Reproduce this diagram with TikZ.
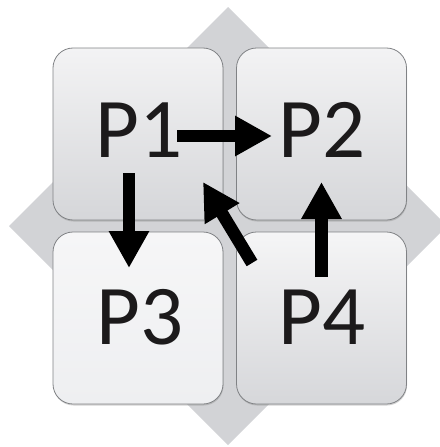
\documentclass[tikz,border=0pt]{standalone}
\usepackage{fontspec}
\setmainfont{Carlito}
\usetikzlibrary{arrows.meta,shadows}
\definecolor{diamondgray}{HTML}{D2D3D6}
\definecolor{boxedge}{HTML}{808285}
\definecolor{txt}{HTML}{1C1A1B}
\tikzset{
  box/.style={draw=boxedge, line width=0.8pt, rounded corners=20pt,
    minimum width=170pt, minimum height=172pt, inner sep=0pt,
    drop shadow={shadow xshift=0.5pt, shadow yshift=-1.5pt, opacity=0.35}},
  darkbox/.style={box, top color=#1!100, bottom color=#1!100},
  lbl/.style={font=\fontsize{85}{85}\selectfont, text=txt, inner sep=0pt},
  bigarrow/.style={line width=12.5pt, -{Triangle[length=37pt,width=38pt]}}
}
\begin{document}
\begin{tikzpicture}[x=1pt,y=-1pt]
\useasboundingbox (0,0) rectangle (439,447);
\fill[diamondgray] (228,7) -- (447,226) -- (228,445) -- (9,226) -- cycle;
\node[box, top color={rgb,255:red,243;green,243;blue,244}, bottom color={rgb,255:red,213;green,214;blue,217}] (p1) at (138,134) {};
\node[box, top color={rgb,255:red,243;green,243;blue,244}, bottom color={rgb,255:red,213;green,214;blue,217}] (p2) at (321.5,134) {};
\node[box, top color={rgb,255:red,246;green,246;blue,247}, bottom color={rgb,255:red,238;green,239;blue,241}] (p3) at (138,318) {};
\node[box, top color={rgb,255:red,245;green,245;blue,246}, bottom color={rgb,255:red,214;green,215;blue,218}] (p4) at (321.5,318) {};
\node[lbl] (t1) at (139,130) {P1};
\node[lbl] (t2) at (322,130) {P2};
\node[lbl] (t3) at (140,317) {P3};
\node[lbl] (t4) at (322,317) {P4};
\coordinate (a1s) at (177,136);
\coordinate (a1e) at (272,136);
\coordinate (a2s) at (129,173);
\coordinate (a2e) at (129,268);
\coordinate (a3s) at (321.5,277);
\coordinate (a3e) at (321.5,182);
\coordinate (a4s) at (252,263);
\coordinate (a4e) at (203,182);
\draw[bigarrow] (a1s) -- (a1e);
\draw[bigarrow] (a2s) -- (a2e);
\draw[bigarrow] (a3s) -- (a3e);
\draw[bigarrow] (a4s) -- (a4e);
\end{tikzpicture}
\end{document}
